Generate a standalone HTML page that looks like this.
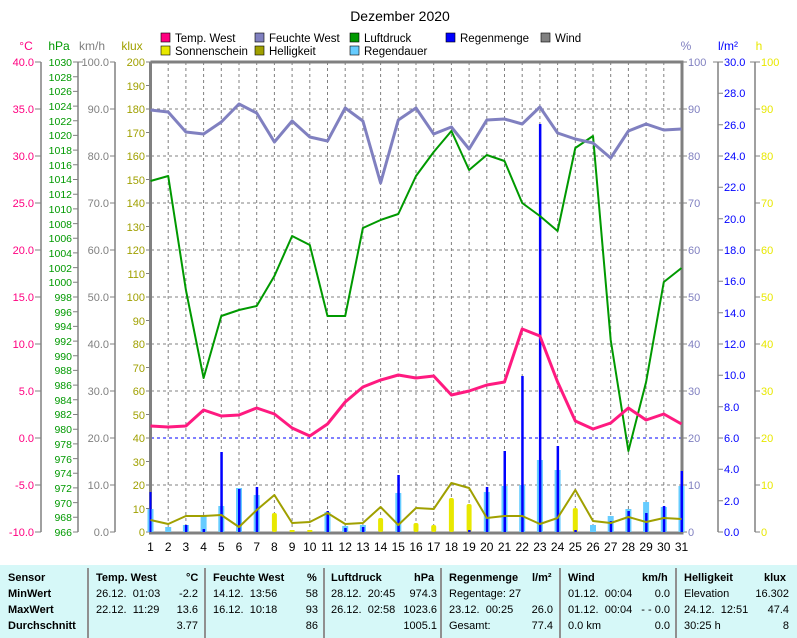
<!DOCTYPE html>
<html><head><meta charset="utf-8"><style>
body{margin:0;background:#fff;width:797px;height:638px;overflow:hidden;position:relative;font-family:"Liberation Sans",sans-serif}
svg{position:absolute;left:0;top:0}
.tb{position:absolute;left:0;top:565px;width:797px;height:73px;background:#d6f8f8}
.c{position:absolute;font-size:11px;white-space:nowrap;color:#000}
.b{font-weight:bold}
.r{text-align:right}
.sep{position:absolute;top:568px;width:2px;height:70px;background:#909090}
</style></head><body>
<svg width="797" height="565" font-family="Liberation Sans, sans-serif" font-size="11">
<text x="400" y="21" font-size="14" text-anchor="middle">Dezember 2020</text>
<g font-size="11.5">
<rect x="161" y="33" width="9" height="9" fill="#ff0080" stroke="#000" stroke-width=".6"/><text x="175" y="42">Temp. West</text>
<rect x="255" y="33" width="9" height="9" fill="#8080c0" stroke="#000" stroke-width=".6"/><text x="269" y="42">Feuchte West</text>
<rect x="350" y="33" width="9" height="9" fill="#009900" stroke="#000" stroke-width=".6"/><text x="364" y="42">Luftdruck</text>
<rect x="446" y="33" width="9" height="9" fill="#0000ff" stroke="#000" stroke-width=".6"/><text x="460" y="42">Regenmenge</text>
<rect x="541" y="33" width="9" height="9" fill="#808080" stroke="#000" stroke-width=".6"/><text x="555" y="42">Wind</text>
<rect x="161" y="46" width="9" height="9" fill="#e8e800" stroke="#000" stroke-width=".6"/><text x="175" y="55">Sonnenschein</text>
<rect x="255" y="46" width="9" height="9" fill="#a0a000" stroke="#000" stroke-width=".6"/><text x="269" y="55">Helligkeit</text>
<rect x="350" y="46" width="9" height="9" fill="#66ccff" stroke="#000" stroke-width=".6"/><text x="364" y="55">Regendauer</text>
</g>
<g font-size="12">
<text x="26" y="50" fill="#ff0080" text-anchor="middle">°C</text>
<text x="59" y="50" fill="#009900" text-anchor="middle">hPa</text>
<text x="92" y="50" fill="#808080" text-anchor="middle">km/h</text>
<text x="132" y="50" fill="#a0a000" text-anchor="middle">klux</text>
<text x="686" y="50" fill="#8080c0" text-anchor="middle">%</text>
<text x="728" y="50" fill="#0000ff" text-anchor="middle">l/m²</text>
<text x="759" y="50" fill="#e8e800" text-anchor="middle">h</text>
</g>
<g stroke="#808080" stroke-dasharray="3,3" stroke-width="1">
<path d="M151 109H682M151 156H682M151 203H682M151 250H682M151 297H682M151 344H682M151 391H682M151 485H682"/>
<path d="M168.2 62V532M185.9 62V532M203.6 62V532M221.3 62V532M239 62V532M256.7 62V532M274.4 62V532M292.1 62V532M309.8 62V532M327.5 62V532M345.2 62V532M362.9 62V532M380.6 62V532M398.3 62V532M416 62V532M433.7 62V532M451.4 62V532M469.1 62V532M486.8 62V532M504.5 62V532M522.2 62V532M539.9 62V532M557.6 62V532M575.3 62V532M593 62V532M610.7 62V532M628.4 62V532M646.1 62V532M663.8 62V532"/>
</g>
<path d="M151 438H682" stroke="#0000ff" stroke-dasharray="3,3"/>
<g stroke="#808080" stroke-width="1.5" fill="none">
<path d="M41 62V532M78 62V532M115 62V532M718 62V532M755 62V532"/>
</g>
<path d="M150.5 62V533H682V62H150.5" stroke="#808080" stroke-width="3" fill="none"/>
<g stroke="#808080" stroke-width="1">
<path d="M35 62h6M35 109h6M35 156h6M35 203h6M35 250h6M35 297h6M35 344h6M35 391h6M35 438h6M35 485h6M35 532h6"/>
<path d="M73 62h10M73 76.7h5M73 91.4h5M73 106.1h5M73 120.8h5M73 135.4h5M73 150.1h5M73 164.8h5M73 179.5h5M73 194.2h5M73 208.9h5M73 223.6h5M73 238.3h5M73 252.9h5M73 267.6h5M73 282.3h5M73 297h5M73 311.7h5M73 326.4h5M73 341.1h5M73 355.8h5M73 370.4h5M73 385.1h5M73 399.8h5M73 414.5h5M73 429.2h5M73 443.9h5M73 458.6h5M73 473.3h5M73 487.9h5M73 502.6h5M73 517.3h5M73 532h5"/>
<path d="M110 62h5M110 109h5M110 156h5M110 203h5M110 250h5M110 297h5M110 344h5M110 391h5M110 438h5M110 485h5M110 532h5"/>
<path d="M146 62h5M146 85.5h5M146 109h5M146 132.5h5M146 156h5M146 179.5h5M146 203h5M146 226.5h5M146 250h5M146 273.5h5M146 297h5M146 320.5h5M146 344h5M146 367.5h5M146 391h5M146 414.5h5M146 438h5M146 461.5h5M146 485h5M146 508.5h5M146 532h5"/>
<path d="M682 62h5M682 109h5M682 156h5M682 203h5M682 250h5M682 297h5M682 344h5M682 391h5M682 438h5M682 485h5M682 532h5"/>
<path d="M713 62h10M718 93.3h5M718 124.7h5M718 156h5M718 187.3h5M718 218.7h5M718 250h5M718 281.3h5M718 312.7h5M718 344h5M718 375.3h5M718 406.7h5M718 438h5M718 469.3h5M718 500.7h5M718 532h5"/>
<path d="M750 62h10M755 109h5M755 156h5M755 203h5M755 250h5M755 297h5M755 344h5M755 391h5M755 438h5M755 485h5M755 532h5"/>
</g>
<g fill="#ff0080" text-anchor="end">
<text x="34" y="66">40.0</text><text x="34" y="113">35.0</text><text x="34" y="160">30.0</text><text x="34" y="207">25.0</text><text x="34" y="254">20.0</text><text x="34" y="301">15.0</text><text x="34" y="348">10.0</text><text x="34" y="395">5.0</text><text x="34" y="442">0.0</text><text x="34" y="489">-5.0</text><text x="34" y="536">-10.0</text>
</g>
<g fill="#009900" text-anchor="end" font-size="10.5">
<text x="72" y="66">1030</text><text x="72" y="81">1028</text><text x="72" y="95">1026</text><text x="72" y="110">1024</text><text x="72" y="125">1022</text><text x="72" y="139">1020</text><text x="72" y="154">1018</text><text x="72" y="169">1016</text><text x="72" y="183">1014</text><text x="72" y="198">1012</text><text x="72" y="213">1010</text><text x="72" y="228">1008</text><text x="72" y="242">1006</text><text x="72" y="257">1004</text><text x="72" y="272">1002</text><text x="72" y="286">1000</text><text x="72" y="301">998</text><text x="72" y="316">996</text><text x="72" y="330">994</text><text x="72" y="345">992</text><text x="72" y="360">990</text><text x="72" y="374">988</text><text x="72" y="389">986</text><text x="72" y="404">984</text><text x="72" y="418">982</text><text x="72" y="433">980</text><text x="72" y="448">978</text><text x="72" y="463">976</text><text x="72" y="477">974</text><text x="72" y="492">972</text><text x="72" y="507">970</text><text x="72" y="521">968</text><text x="72" y="536">966</text>
</g>
<g fill="#808080" text-anchor="end">
<text x="109" y="66">100.0</text><text x="109" y="113">90.0</text><text x="109" y="160">80.0</text><text x="109" y="207">70.0</text><text x="109" y="254">60.0</text><text x="109" y="301">50.0</text><text x="109" y="348">40.0</text><text x="109" y="395">30.0</text><text x="109" y="442">20.0</text><text x="109" y="489">10.0</text><text x="109" y="536">0.0</text>
</g>
<g fill="#a0a000" text-anchor="end">
<text x="145" y="66">200</text><text x="145" y="90">190</text><text x="145" y="113">180</text><text x="145" y="137">170</text><text x="145" y="160">160</text><text x="145" y="184">150</text><text x="145" y="207">140</text><text x="145" y="231">130</text><text x="145" y="254">120</text><text x="145" y="278">110</text><text x="145" y="301">100</text><text x="145" y="325">90</text><text x="145" y="348">80</text><text x="145" y="372">70</text><text x="145" y="395">60</text><text x="145" y="419">50</text><text x="145" y="442">40</text><text x="145" y="466">30</text><text x="145" y="489">20</text><text x="145" y="513">10</text><text x="145" y="536">0</text>
</g>
<g fill="#8080c0">
<text x="688" y="66">100</text><text x="688" y="113">90</text><text x="688" y="160">80</text><text x="688" y="207">70</text><text x="688" y="254">60</text><text x="688" y="301">50</text><text x="688" y="348">40</text><text x="688" y="395">30</text><text x="688" y="442">20</text><text x="688" y="489">10</text><text x="688" y="536">0</text>
</g>
<g fill="#0000ff">
<text x="724" y="66">30.0</text><text x="724" y="97">28.0</text><text x="724" y="129">26.0</text><text x="724" y="160">24.0</text><text x="724" y="191">22.0</text><text x="724" y="223">20.0</text><text x="724" y="254">18.0</text><text x="724" y="285">16.0</text><text x="724" y="317">14.0</text><text x="724" y="348">12.0</text><text x="724" y="379">10.0</text><text x="724" y="411">8.0</text><text x="724" y="442">6.0</text><text x="724" y="473">4.0</text><text x="724" y="505">2.0</text><text x="724" y="536">0.0</text>
</g>
<g fill="#e8e800">
<text x="761" y="66">100</text><text x="761" y="113">90</text><text x="761" y="160">80</text><text x="761" y="207">70</text><text x="761" y="254">60</text><text x="761" y="301">50</text><text x="761" y="348">40</text><text x="761" y="395">30</text><text x="761" y="442">20</text><text x="761" y="489">10</text><text x="761" y="536">0</text>
</g>
<g text-anchor="middle" font-size="12">
<text x="150.5" y="551">1</text><text x="168.2" y="551">2</text><text x="185.9" y="551">3</text><text x="203.6" y="551">4</text><text x="221.3" y="551">5</text><text x="239" y="551">6</text><text x="256.7" y="551">7</text><text x="274.4" y="551">8</text><text x="292.1" y="551">9</text><text x="309.8" y="551">10</text><text x="327.5" y="551">11</text><text x="345.2" y="551">12</text><text x="362.9" y="551">13</text><text x="380.6" y="551">14</text><text x="398.3" y="551">15</text><text x="416" y="551">16</text><text x="433.7" y="551">17</text><text x="451.4" y="551">18</text><text x="469.1" y="551">19</text><text x="486.8" y="551">20</text><text x="504.5" y="551">21</text><text x="522.2" y="551">22</text><text x="539.9" y="551">23</text><text x="557.6" y="551">24</text><text x="575.3" y="551">25</text><text x="593" y="551">26</text><text x="610.7" y="551">27</text><text x="628.4" y="551">28</text><text x="646.1" y="551">29</text><text x="663.8" y="551">30</text><text x="681.5" y="551">31</text>
</g>
<g fill="#e8e800">
<rect x="148" y="528" width="5" height="4"/><rect x="183.4" y="525" width="5" height="7"/><rect x="201" y="529" width="5" height="3"/><rect x="218.8" y="528" width="5" height="4"/><rect x="254.2" y="525" width="5" height="7"/><rect x="271.9" y="513" width="5" height="19" rx="2"/><rect x="289.6" y="530" width="5" height="2"/><rect x="307.3" y="530" width="5" height="2"/><rect x="325" y="523" width="5" height="9"/><rect x="378.1" y="518" width="5" height="14" rx="2"/><rect x="413.5" y="523" width="5" height="9" rx="2"/><rect x="431.2" y="525" width="5" height="7" rx="2"/><rect x="448.9" y="498" width="5" height="34" rx="2"/><rect x="466.6" y="504" width="5" height="28" rx="2"/><rect x="555.1" y="529" width="5" height="3"/><rect x="572.8" y="508" width="5" height="24" rx="2"/><rect x="625.9" y="529" width="5" height="3"/><rect x="661.3" y="527" width="5" height="5"/>
</g>
<g fill="#66ccff">
<rect x="147.5" y="509" width="6" height="23"/><rect x="165.2" y="527" width="6" height="5"/><rect x="182.9" y="525" width="6" height="7"/><rect x="200.6" y="516" width="6" height="16"/><rect x="218.3" y="506" width="6" height="26"/><rect x="236" y="488" width="6" height="44"/><rect x="253.7" y="495" width="6" height="37"/><rect x="324.5" y="512" width="6" height="20"/><rect x="342.2" y="526" width="6" height="6"/><rect x="359.9" y="525" width="6" height="7"/><rect x="395.3" y="493" width="6" height="39"/><rect x="483.8" y="492" width="6" height="40"/><rect x="501.5" y="486" width="6" height="46"/><rect x="519.2" y="485" width="6" height="47"/><rect x="536.9" y="460" width="6" height="72"/><rect x="554.6" y="470" width="6" height="62"/><rect x="590" y="525" width="6" height="7"/><rect x="607.7" y="516" width="6" height="16"/><rect x="625.4" y="509" width="6" height="23"/><rect x="643.1" y="502" width="6" height="30"/><rect x="660.8" y="507" width="6" height="25"/><rect x="678.5" y="486" width="6" height="46"/>
</g>
<g fill="#0000ff">
<rect x="149.5" y="492" width="2" height="40"/><rect x="184.9" y="525" width="2.5" height="7"/><rect x="202.6" y="529" width="2.5" height="3"/><rect x="220.3" y="452" width="2.5" height="80"/><rect x="238" y="489" width="2.5" height="43"/><rect x="255.7" y="487" width="2.5" height="45"/><rect x="326.5" y="511" width="2.5" height="21"/><rect x="344.2" y="528" width="2.5" height="4"/><rect x="361.9" y="527" width="2.5" height="5"/><rect x="397.3" y="475" width="2.5" height="57"/><rect x="468.1" y="530" width="2.5" height="2"/><rect x="485.8" y="487" width="2.5" height="45"/><rect x="503.5" y="451" width="2.5" height="81"/><rect x="521.2" y="376" width="2.5" height="156"/><rect x="538.9" y="124" width="2.5" height="408"/><rect x="556.6" y="446" width="2.5" height="86"/><rect x="574.3" y="530" width="2.5" height="2"/><rect x="609.7" y="521" width="2.5" height="11"/><rect x="627.4" y="511" width="2.5" height="21"/><rect x="645.1" y="513" width="2.5" height="19"/><rect x="662.8" y="506" width="2.5" height="26"/><rect x="680.5" y="471" width="2.5" height="61"/>
</g>
<g fill="none" stroke-linejoin="round">
<polyline stroke="#a0a000" stroke-width="2" points="150.5,520 168.2,524 185.9,516 203.6,516 221.3,515 239,527 256.7,510 274.4,495 292.1,523 309.8,522 327.5,513 345.2,524 362.9,523 380.6,507 398.3,525 416,508 433.7,509 451.4,483 469.1,488 486.8,518 504.5,516 522.2,516 539.9,524 557.6,518 575.3,490 593,521 610.7,523 628.4,517 646.1,522 663.8,518 681.5,519"/>
<polyline stroke="#009900" stroke-width="2" points="150.5,181 168.2,176 185.9,290 203.6,378 221.3,316 239,310 256.7,306 274.4,276 292.1,236 309.8,245 327.5,316 345.2,316 362.9,228 380.6,220 398.3,214 416,176 433.7,152 451.4,131 469.1,170 486.8,155 504.5,161 522.2,203 539.9,216 557.6,231 575.3,148 593,136 610.7,340 628.4,451 646.1,382 663.8,282 681.5,268"/>
<polyline stroke="#8080c0" stroke-width="3" points="150.5,110 168.2,112 185.9,132 203.6,134 221.3,122 239,104 256.7,113 274.4,142 292.1,121 309.8,137 327.5,141 345.2,108 362.9,121 380.6,183 398.3,120 416,108 433.7,134 451.4,127 469.1,149 486.8,120 504.5,119 522.2,124 539.9,107 557.6,133 575.3,139 593,143 610.7,158 628.4,131 646.1,124 663.8,130 681.5,129"/>
<polyline stroke="#ff1a80" stroke-width="3" points="150.5,426 168.2,427 185.9,426 203.6,410 221.3,416 239,415 256.7,408 274.4,414 292.1,428 309.8,436 327.5,424 345.2,402 362.9,387 380.6,380 398.3,375 416,378 433.7,376 451.4,395 469.1,391 486.8,385 504.5,382 522.2,329 539.9,336 557.6,382 575.3,421 593,429 610.7,423 628.4,408 646.1,420 663.8,414 681.5,424"/>
</g>
</svg>
<div class="tb"></div>
<div class="sep" style="left:87px"></div><div class="sep" style="left:204px"></div><div class="sep" style="left:323px"></div><div class="sep" style="left:440px"></div><div class="sep" style="left:559px"></div><div class="sep" style="left:675px"></div>
<div class="c b" style="left:8px;top:572px">Sensor</div>
<div class="c b" style="left:96px;top:572px">Temp. West</div><div class="c b" style="left:186px;top:572px">°C</div>
<div class="c b" style="left:213px;top:572px">Feuchte West</div><div class="c b" style="left:307px;top:572px">%</div>
<div class="c b" style="left:331px;top:572px">Luftdruck</div><div class="c b" style="left:414px;top:572px">hPa</div>
<div class="c b" style="left:449px;top:572px">Regenmenge</div><div class="c b" style="left:532px;top:572px">l/m²</div>
<div class="c b" style="left:568px;top:572px">Wind</div><div class="c b" style="left:642px;top:572px">km/h</div>
<div class="c b" style="left:684px;top:572px">Helligkeit</div><div class="c b" style="left:764px;top:572px">klux</div>
<div class="c b" style="left:8px;top:588px">MinWert</div>
<div class="c" style="left:96px;top:588px">26.12.&nbsp; 01:03</div><div class="c r" style="left:150px;top:588px;width:48px">-2.2</div>
<div class="c" style="left:213px;top:588px">14.12.&nbsp; 13:56</div><div class="c r" style="left:270px;top:588px;width:48px">58</div>
<div class="c" style="left:331px;top:588px">28.12.&nbsp; 20:45</div><div class="c r" style="left:389px;top:588px;width:48px">974.3</div>
<div class="c" style="left:449px;top:588px">Regentage: 27</div>
<div class="c" style="left:568px;top:588px">01.12.&nbsp; 00:04</div><div class="c r" style="left:622px;top:588px;width:48px">0.0</div>
<div class="c" style="left:684px;top:588px">Elevation</div><div class="c r" style="left:739px;top:588px;width:50px">16.302</div>
<div class="c b" style="left:8px;top:604px">MaxWert</div>
<div class="c" style="left:96px;top:604px">22.12.&nbsp; 11:29</div><div class="c r" style="left:150px;top:604px;width:48px">13.6</div>
<div class="c" style="left:213px;top:604px">16.12.&nbsp; 10:18</div><div class="c r" style="left:270px;top:604px;width:48px">93</div>
<div class="c" style="left:331px;top:604px">26.12.&nbsp; 02:58</div><div class="c r" style="left:389px;top:604px;width:48px">1023.6</div>
<div class="c" style="left:449px;top:604px">23.12.&nbsp; 00:25</div><div class="c r" style="left:505px;top:604px;width:48px">26.0</div>
<div class="c" style="left:568px;top:604px">01.12.&nbsp; 00:04</div><div class="c r" style="left:622px;top:604px;width:48px">- - 0.0</div>
<div class="c" style="left:684px;top:604px">24.12.&nbsp; 12:51</div><div class="c r" style="left:739px;top:604px;width:50px">47.4</div>
<div class="c b" style="left:8px;top:620px">Durchschnitt</div>
<div class="c r" style="left:150px;top:620px;width:48px">3.77</div>
<div class="c r" style="left:270px;top:620px;width:48px">86</div>
<div class="c r" style="left:389px;top:620px;width:48px">1005.1</div>
<div class="c" style="left:449px;top:620px">Gesamt:</div><div class="c r" style="left:505px;top:620px;width:48px">77.4</div>
<div class="c" style="left:568px;top:620px">0.0 km</div><div class="c r" style="left:622px;top:620px;width:48px">0.0</div>
<div class="c" style="left:684px;top:620px">30:25 h</div><div class="c r" style="left:739px;top:620px;width:50px">8</div>
</body></html>
